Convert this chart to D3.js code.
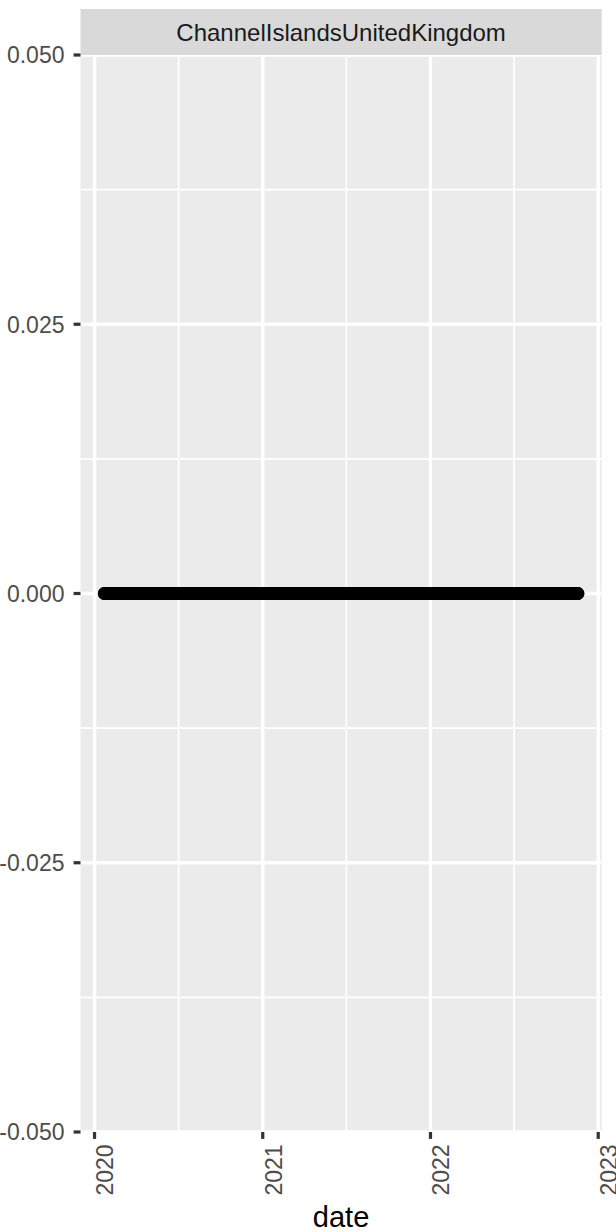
<!DOCTYPE html>
<html>
<head>
<meta charset="utf-8">
<script src="https://cdn.jsdelivr.net/npm/d3@7"></script>
<style>
  html, body { margin: 0; padding: 0; background: #ffffff; }
  svg { display: block; font-family: "Liberation Sans", Arial, Helvetica, sans-serif; }
</style>
</head>
<body>
<svg id="chart" width="616" height="1232"></svg>
<script>
// ---- data ----
const facetLabel = "ChannelIslandsUnitedKingdom";
const firstDate = "2020-01-22";
const lastDate = "2022-11-18";
const dailyValue = 0; // every daily observation reads 0
const yTicks = [-0.05, -0.025, 0, 0.025, 0.05];
const yTickLabels = ["-0.050", "-0.025", "0.000", "0.025", "0.050"];
const yMinor = [-0.0375, -0.0125, 0.0125, 0.0375];
const xTickDates = ["2020-01-01", "2021-01-01", "2022-01-01", "2023-01-01"];
const xTickLabels = ["2020", "2021", "2022", "2023"];
const xMinorDates = ["2020-07-02", "2021-07-02", "2022-07-02"];
const xTitle = "date";

const parse = d3.utcParse("%Y-%m-%d");
const dates = d3.utcDay.range(parse(firstDate), d3.utcDay.offset(parse(lastDate), 1));
const values = dates.map(() => dailyValue);
const data = dates.map((d, i) => ({ date: d, value: values[i] }));

// ---- layout ----
const panel = { left: 80.5, right: 601.7, top: 55, bottom: 1132 };
const strip = { top: 9, bottom: 55 };

const svg = d3.select("#chart");

const [dmin, dmax] = d3.extent(data, d => d.date);
const span = dmax - dmin;
const x = d3.scaleUtc()
  .domain([new Date(+dmin - 0.05 * span), new Date(+dmax + 0.05 * span)])
  .range([panel.left, panel.right]);
const y = d3.scaleLinear()
  .domain([-0.05, 0.05])
  .range([panel.bottom, panel.top]);

// panel background
svg.append("rect")
  .attr("x", panel.left).attr("y", panel.top)
  .attr("width", panel.right - panel.left).attr("height", panel.bottom - panel.top)
  .attr("fill", "#ebebeb");

svg.append("clipPath").attr("id", "pclip").append("rect")
  .attr("x", panel.left).attr("y", panel.top)
  .attr("width", panel.right - panel.left).attr("height", panel.bottom - panel.top);

const grid = svg.append("g").attr("clip-path", "url(#pclip)");
// minor grid
grid.selectAll(".ymin").data(yMinor).join("line")
  .attr("x1", panel.left).attr("x2", panel.right)
  .attr("y1", d => y(d)).attr("y2", d => y(d))
  .attr("stroke", "#ffffff").attr("stroke-width", 1.7);
grid.selectAll(".xmin").data(xMinorDates.map(parse)).join("line")
  .attr("y1", panel.top).attr("y2", panel.bottom)
  .attr("x1", d => x(d)).attr("x2", d => x(d))
  .attr("stroke", "#ffffff").attr("stroke-width", 1.7);
// major grid
grid.selectAll(".ymaj").data(yTicks).join("line")
  .attr("x1", panel.left).attr("x2", panel.right)
  .attr("y1", d => y(d)).attr("y2", d => y(d))
  .attr("stroke", "#ffffff").attr("stroke-width", 3.4);
grid.selectAll(".xmaj").data(xTickDates.map(parse)).join("line")
  .attr("y1", panel.top).attr("y2", panel.bottom)
  .attr("x1", d => x(d)).attr("x2", d => x(d))
  .attr("stroke", "#ffffff").attr("stroke-width", 3.4);

// points
grid.selectAll("circle").data(data).join("circle")
  .attr("cx", d => x(d.date))
  .attr("cy", d => y(d.value))
  .attr("r", 6.5)
  .attr("fill", "#000000");

// strip
svg.append("rect")
  .attr("x", panel.left).attr("y", strip.top)
  .attr("width", panel.right - panel.left).attr("height", strip.bottom - strip.top)
  .attr("fill", "#d9d9d9");
svg.append("text")
  .attr("x", (panel.left + panel.right) / 2)
  .attr("y", (strip.top + strip.bottom) / 2)
  .attr("dy", "0.36em")
  .attr("text-anchor", "middle")
  .attr("font-size", 24)
  .attr("fill", "#1a1a1a")
  .text(facetLabel);

// y axis
const tickLen = 6.9;
const yAxis = svg.append("g");
yAxis.selectAll("line").data(yTicks).join("line")
  .attr("x1", panel.left - tickLen).attr("x2", panel.left)
  .attr("y1", d => y(d)).attr("y2", d => y(d))
  .attr("stroke", "#333333").attr("stroke-width", 3.2);
yAxis.selectAll("text").data(yTicks).join("text")
  .attr("x", 64.5)
  .attr("y", d => y(d))
  .attr("dy", "0.36em")
  .attr("text-anchor", "end")
  .attr("font-size", 23)
  .attr("fill", "#4d4d4d")
  .text((d, i) => yTickLabels[i]);

// x axis
const xAxis = svg.append("g");
const xt = xTickDates.map(parse);
xAxis.selectAll("line").data(xt).join("line")
  .attr("x1", d => x(d)).attr("x2", d => x(d))
  .attr("y1", panel.bottom).attr("y2", panel.bottom + tickLen)
  .attr("stroke", "#333333").attr("stroke-width", 3.2);
xAxis.selectAll("text").data(xt).join("text")
  .attr("transform", d => `translate(${x(d) + 18.8},${panel.bottom + tickLen + 5.5}) rotate(-90)`)
  .attr("text-anchor", "end")
  .attr("font-size", 23)
  .attr("fill", "#4d4d4d")
  .text((d, i) => xTickLabels[i]);

// x title
svg.append("text")
  .attr("x", (panel.left + panel.right) / 2)
  .attr("y", 1227)
  .attr("text-anchor", "middle")
  .attr("font-size", 29)
  .attr("fill", "#000000")
  .text(xTitle);
</script>
</body>
</html>
